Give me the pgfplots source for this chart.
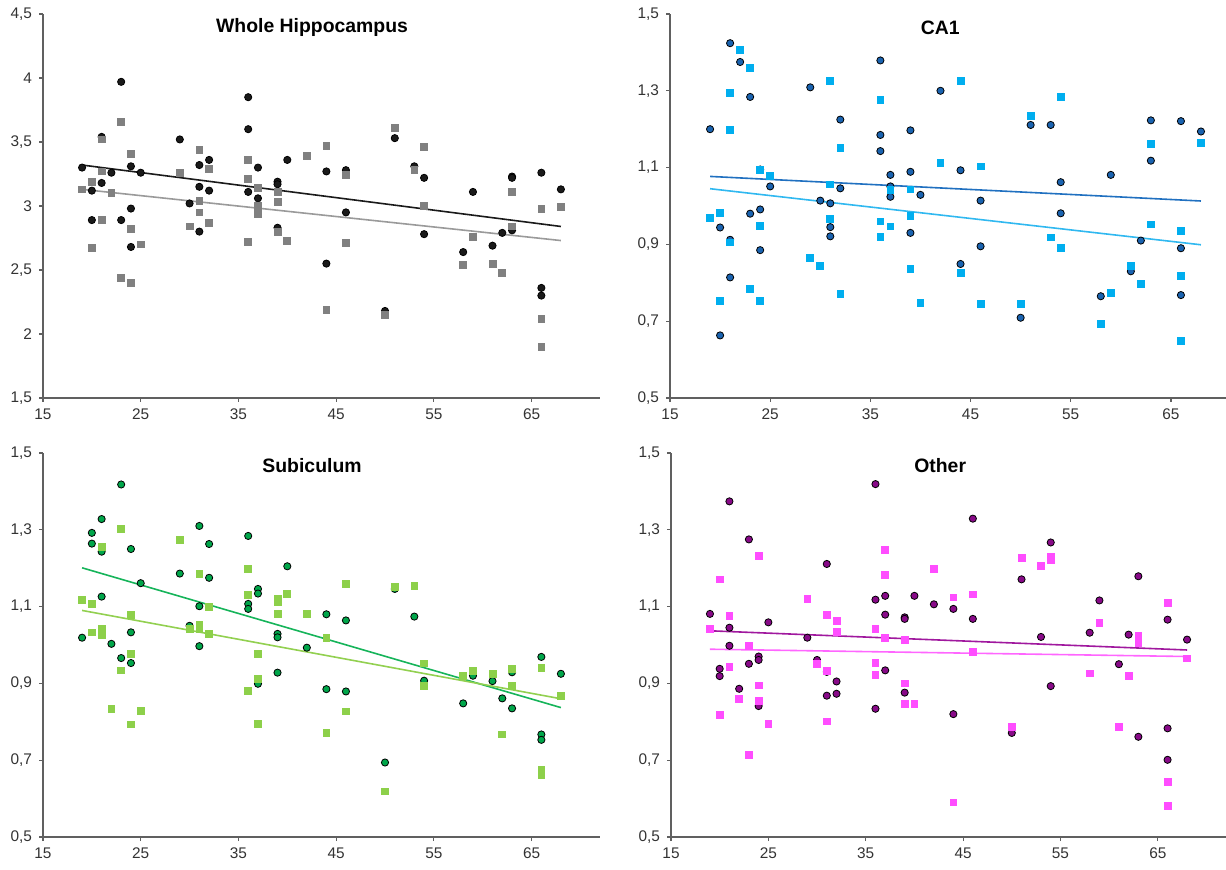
\documentclass[border=0pt]{standalone}
\usepackage{fontspec}
\setmainfont{Liberation Sans}
\usepackage{pgfplots}
\pgfplotsset{compat=1.18}

\definecolor{axisgray}{HTML}{606060}
\definecolor{whDark}{HTML}{1A1A1A}
\definecolor{whLight}{HTML}{808080}
\definecolor{whLineL}{HTML}{9A9A9A}
\definecolor{caDark}{HTML}{1A63B0}
\definecolor{caEdge}{HTML}{0D3566}
\definecolor{caLight}{HTML}{00AEEF}
\definecolor{caLineD}{HTML}{2070C0}
\definecolor{caLineL}{HTML}{30B8F0}
\definecolor{subDark}{HTML}{00A64A}
\definecolor{subEdge}{HTML}{0B3D1F}
\definecolor{subLight}{HTML}{8DD04A}
\definecolor{subLineD}{HTML}{16B45A}
\definecolor{subLineL}{HTML}{92D050}
\definecolor{othDark}{HTML}{880A88}
\definecolor{othEdge}{HTML}{3A003A}
\definecolor{othLight}{HTML}{FF4DFF}
\definecolor{othLineD}{HTML}{A0189E}
\definecolor{othLineL}{HTML}{FF66FF}

\tikzset{ptitle/.style={font=\bfseries\fontsize{9.7}{11}\selectfont, anchor=center}}

\pgfplotsset{
  panel/.style={
    scale only axis, width=278.5pt, height=192pt,
    xmin=15, xmax=72, xtick={15,25,...,65},
    axis x line*=bottom, axis y line*=left,
    axis line style={-, draw=axisgray, line width=0.8pt},
    tick style={draw=axisgray, line width=0.6pt},
    tick align=outside, major tick length=2pt,
    ticklabel style={font=\fontsize{7.7}{9}\selectfont, text=black!80,
      /pgf/number format/.cd, fixed, precision=1, use comma, assume math mode=true},
    clip=false,
  },
  small/.style={ymin=0.5, ymax=1.5, ytick={0.5,0.7,...,1.5}},
  circ/.style={only marks, mark=*, mark size=1.8pt, mark options={draw=#1, line width=0.4pt}},
  sq/.style={only marks, mark=square*, mark size=1.7pt, mark options={draw=#1, fill=#1}},
  trend/.style={no marks, line width=0.8pt, draw=#1},
}

\begin{document}
\begin{tikzpicture}
\useasboundingbox (0,0) rectangle (613pt,-435pt);

% Whole Hippocampus
\begin{axis}[panel, at={(21.5pt,-199pt)}, anchor=south west,
  ymin=1.5, ymax=4.5, ytick={1.5,2,...,4.5}]
\addplot[circ=whDark, mark options={fill=whDark}] coordinates {
 (19,3.30) (20,3.12) (20,2.89) (21,3.54) (21,3.18) (22,3.26) (23,3.97) (23,2.89)
 (24,3.31) (24,2.98) (24,2.68) (25,3.26) (29,3.52) (30,3.02) (31,3.32) (31,3.15)
 (31,2.80) (32,3.36) (32,3.12) (36,3.85) (36,3.60) (36,3.11) (37,3.30) (37,3.06)
 (39,3.19) (39,3.17) (39,2.83) (40,3.36) (44,3.27) (44,2.55) (46,3.28) (46,2.95)
 (50,2.18) (51,3.53) (53,3.31) (54,3.22) (54,2.78) (58,2.64) (59,3.11) (61,2.69)
 (62,2.79) (63,3.23) (63,3.22) (63,2.81) (66,3.26) (66,2.36) (66,2.30) (68,3.13)
};
\addplot[sq=whLight] coordinates {
 (19,3.13) (20,3.19) (20,2.67) (21,3.52) (21,3.27) (21,2.89) (22,3.10) (23,3.66)
 (23,2.44) (24,3.41) (24,2.82) (24,2.40) (25,2.70) (29,3.26) (30,2.84) (31,3.44)
 (31,3.04) (31,2.95) (32,3.29) (32,2.87) (36,3.36) (36,3.21) (36,2.72) (37,3.14)
 (37,3.00) (37,2.94) (39,3.11) (39,3.03) (39,2.80) (40,2.73) (42,3.39) (44,3.47)
 (44,2.19) (46,3.24) (46,2.71) (50,2.15) (51,3.61) (53,3.28) (54,3.46) (54,3.00)
 (58,2.54) (59,2.76) (61,2.55) (62,2.48) (63,3.11) (63,2.84) (66,2.98) (66,2.12)
 (66,1.90) (68,2.99)
};
\addplot[trend=whDark] coordinates {(19,3.32) (68,2.84)};
\addplot[trend=whLineL] coordinates {(19,3.13) (68,2.73)};
\node[ptitle] at (axis description cs:0.483,0.965) {Whole Hippocampus};
\end{axis}

% CA1
\begin{axis}[panel, small, at={(335pt,-199pt)}, anchor=south west,
  width=278pt, xmax=70.5]
\addplot[circ=caEdge, mark options={fill=caDark}] coordinates {
 (19,1.200) (20,0.944) (20,0.663) (21,1.424) (21,0.912) (21,0.814) (22,1.375)
 (23,1.284) (23,0.980) (24,1.095) (24,0.991) (24,0.885) (25,1.051) (29,1.309)
 (30,1.014) (31,1.007) (31,0.945) (31,0.921) (32,1.225) (32,1.046) (36,1.379)
 (36,1.185) (36,1.143) (37,1.081) (37,1.051) (37,1.024) (39,1.197) (39,1.089)
 (39,0.930) (40,1.029) (42,1.300) (44,1.093) (44,0.849) (46,1.014) (46,0.895)
 (50,0.709) (51,1.211) (53,1.211) (54,1.062) (54,0.981) (58,0.765) (59,1.081)
 (61,0.830) (62,0.910) (63,1.223) (63,1.118) (66,1.221) (66,0.890) (66,0.768)
 (68,1.194)
};
\addplot[sq=caLight] coordinates {
 (19,0.970) (20,0.983) (20,0.752) (21,1.294) (21,1.199) (21,0.905) (22,1.407)
 (23,1.360) (23,0.785) (24,1.095) (24,0.948) (24,0.753) (25,1.079) (29,0.864)
 (30,0.845) (31,1.326) (31,1.056) (31,0.966) (32,1.152) (32,0.772) (36,1.277)
 (36,0.960) (36,0.919) (37,1.042) (37,0.947) (39,1.043) (39,0.974) (39,0.837)
 (40,0.748) (42,1.113) (44,1.326) (44,0.825) (46,1.103) (46,0.746) (50,0.746)
 (51,1.235) (53,0.918) (54,1.284) (54,0.891) (58,0.693) (59,0.774) (61,0.843)
 (62,0.797) (63,1.161) (63,0.952) (66,0.936) (66,0.817) (66,0.648) (68,1.165)
};
\addplot[trend=caLineD] coordinates {(19,1.077) (68,1.013)};
\addplot[trend=caLineL] coordinates {(19,1.045) (68,0.899)};
\node[ptitle] at (axis description cs:0.486,0.965) {CA1};
\end{axis}

% Subiculum
\begin{axis}[panel, small, at={(21.5pt,-418.5pt)}, anchor=south west]
\addplot[circ=subEdge, mark options={fill=subDark}] coordinates {
 (19,1.019) (20,1.292) (20,1.264) (21,1.328) (21,1.243) (21,1.126) (22,1.003)
 (23,1.418) (23,0.966) (24,1.250) (24,1.033) (24,0.953) (25,1.161) (29,1.186)
 (30,1.050) (31,1.310) (31,1.101) (31,0.997) (32,1.263) (32,1.175) (36,1.284)
 (36,1.107) (36,1.094) (37,1.146) (37,1.134) (37,0.899) (39,1.029) (39,1.020)
 (39,0.928) (40,1.205) (42,0.993) (44,1.080) (44,0.885) (46,1.064) (46,0.879)
 (50,0.694) (51,1.146) (53,1.074) (54,0.907) (58,0.848) (59,0.920) (61,0.906)
 (62,0.861) (63,0.929) (63,0.835) (66,0.969) (66,0.767) (66,0.753) (68,0.925)
};
\addplot[sq=subLight] coordinates {
 (19,1.117) (20,1.108) (20,1.033) (21,1.255) (21,1.043) (21,1.026) (22,0.834)
 (23,1.302) (23,0.934) (24,1.079) (24,0.977) (24,0.793) (25,0.829) (29,1.273)
 (30,1.042) (31,1.186) (31,1.052) (31,1.041) (32,1.100) (32,1.029) (36,1.198)
 (36,1.131) (36,0.881) (37,0.976) (37,0.912) (37,0.794) (39,1.121) (39,1.113)
 (39,1.082) (40,1.133) (42,1.081) (44,1.019) (44,0.772) (46,1.159) (46,0.827)
 (50,0.619) (51,1.152) (53,1.154) (54,0.952) (54,0.894) (58,0.919) (59,0.933)
 (61,0.925) (62,0.767) (63,0.938) (63,0.893) (66,0.941) (66,0.675) (66,0.662)
 (68,0.867)
};
\addplot[trend=subLineD] coordinates {(19,1.201) (68,0.837)};
\addplot[trend=subLineL] coordinates {(19,1.090) (68,0.860)};
\node[ptitle] at (axis description cs:0.483,0.968) {Subiculum};
\end{axis}

% Other
\begin{axis}[panel, small, at={(335.5pt,-418.5pt)}, anchor=south west,
  width=277.5pt]
\addplot[circ=othEdge, mark options={fill=othDark}] coordinates {
 (19,1.081) (20,0.938) (20,0.919) (21,1.374) (21,1.045) (21,0.998) (22,0.886)
 (23,1.275) (23,0.951) (24,0.970) (24,0.961) (24,0.841) (25,1.059) (29,1.019)
 (30,0.961) (31,1.211) (31,0.930) (31,0.868) (32,0.905) (32,0.873) (36,1.419)
 (36,1.118) (36,0.834) (37,1.128) (37,1.079) (37,0.934) (39,1.072) (39,1.068)
 (39,0.876) (40,1.128) (42,1.106) (44,1.094) (44,0.820) (46,1.329) (46,1.068)
 (50,0.771) (51,1.171) (53,1.021) (54,1.267) (54,0.893) (58,1.032) (59,1.116)
 (61,0.950) (62,1.027) (63,1.179) (63,0.761) (66,1.066) (66,0.783) (66,0.701)
 (68,1.014)
};
\addplot[sq=othLight] coordinates {
 (19,1.042) (20,1.171) (20,0.818) (21,1.076) (21,0.944) (22,0.859) (23,0.998)
 (23,0.714) (24,1.232) (24,0.895) (24,0.854) (25,0.795) (29,1.120) (30,0.951)
 (31,1.078) (31,0.933) (31,0.801) (32,1.062) (32,1.034) (36,1.041) (36,0.954)
 (36,0.923) (37,1.247) (37,1.183) (37,1.019) (39,1.013) (39,0.900) (39,0.847)
 (40,0.846) (42,1.199) (44,1.124) (44,0.590) (46,1.132) (46,0.983) (50,0.786)
 (51,1.227) (53,1.205) (54,1.230) (54,1.221) (58,0.926) (59,1.058) (61,0.787)
 (62,0.920) (63,1.023) (63,1.016) (63,1.006) (66,1.109) (66,0.644) (66,0.582)
 (68,0.965)
};
\addplot[trend=othLineD] coordinates {(19,1.037) (68,0.987)};
\addplot[trend=othLineL] coordinates {(19,0.989) (68,0.970)};
\node[ptitle] at (axis description cs:0.485,0.968) {Other};
\end{axis}
\end{tikzpicture}
\end{document}
